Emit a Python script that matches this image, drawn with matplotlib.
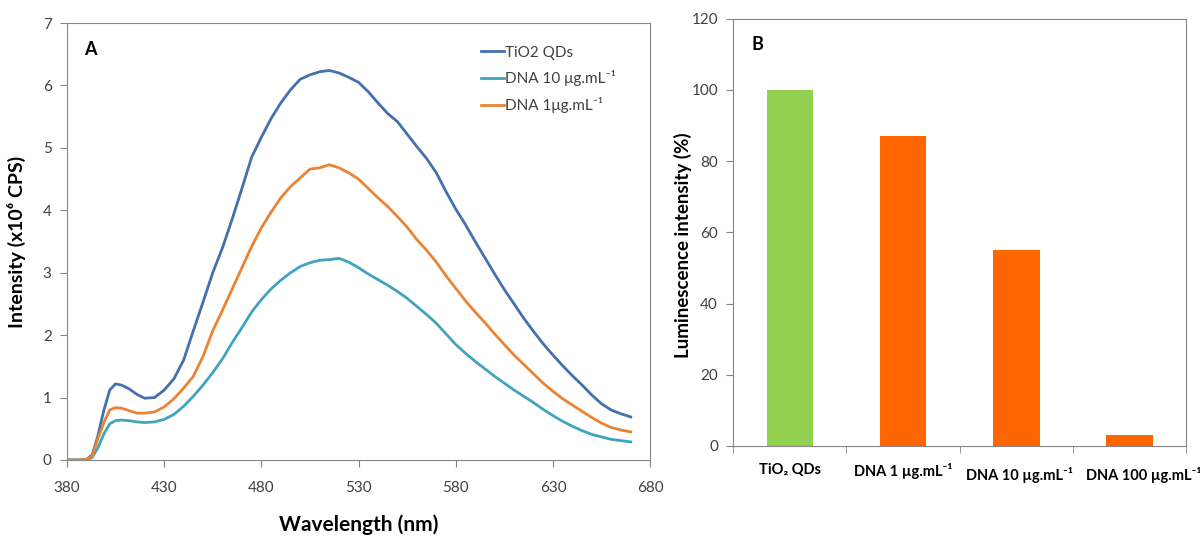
import numpy as np
import matplotlib
matplotlib.use("Agg")
import matplotlib.pyplot as plt
import matplotlib.transforms as mtransforms

plt.rcParams['font.family'] = ['Lato', 'DejaVu Sans']

# --- panel A: emission spectra ---
wavelength = [380, 385, 390, 393, 396, 399, 402, 405, 408, 412, 416, 420, 425, 430,
              435, 440, 445, 450, 455, 460, 465, 470, 475, 480, 485, 490, 495, 500,
              505, 510, 515, 520, 525, 530, 535, 540, 545, 550, 555, 560, 565, 570,
              575, 580, 585, 590, 595, 600, 605, 610, 615, 620, 625, 630, 635, 640,
              645, 650, 655, 660, 665, 670]

tio2 = [0, 0, 0.01, 0.08, 0.4, 0.8, 1.12, 1.22, 1.2, 1.14, 1.05, 0.99, 1.0, 1.12,
        1.3, 1.6, 2.07, 2.53, 3.0, 3.4, 3.86, 4.35, 4.85, 5.17, 5.47, 5.72, 5.93, 6.1,
        6.17, 6.22, 6.24, 6.2, 6.13, 6.05, 5.9, 5.72, 5.55, 5.42, 5.22, 5.02, 4.83, 4.6,
        4.3, 4.02, 3.77, 3.5, 3.24, 2.98, 2.73, 2.5, 2.27, 2.06, 1.86, 1.68, 1.51, 1.35,
        1.2, 1.04, 0.9, 0.8, 0.74, 0.69]

dna10 = [0, 0, 0.0, 0.04, 0.2, 0.42, 0.58, 0.63, 0.64, 0.63, 0.61, 0.6, 0.61, 0.65,
         0.73, 0.86, 1.02, 1.2, 1.4, 1.62, 1.88, 2.12, 2.37, 2.57, 2.74, 2.88, 3.0, 3.1,
         3.16, 3.2, 3.21, 3.23, 3.17, 3.08, 2.98, 2.89, 2.8, 2.7, 2.59, 2.46, 2.33, 2.19,
         2.02, 1.85, 1.71, 1.58, 1.46, 1.34, 1.23, 1.12, 1.02, 0.92, 0.81, 0.71, 0.62, 0.54,
         0.47, 0.41, 0.37, 0.33, 0.31, 0.29]

dna1 = [0, 0, 0.01, 0.06, 0.35, 0.6, 0.8, 0.84, 0.83, 0.79, 0.75, 0.75, 0.77, 0.85,
        0.98, 1.15, 1.34, 1.66, 2.07, 2.4, 2.74, 3.08, 3.42, 3.72, 3.97, 4.2, 4.38, 4.52,
        4.66, 4.68, 4.73, 4.68, 4.6, 4.5, 4.35, 4.2, 4.06, 3.9, 3.73, 3.53, 3.36, 3.17,
        2.95, 2.75, 2.55, 2.37, 2.2, 2.02, 1.85, 1.68, 1.53, 1.38, 1.23, 1.1, 0.98, 0.88,
        0.78, 0.68, 0.59, 0.52, 0.48, 0.45]

# --- panel B: relative luminescence ---
samples = ['TiO\u2082 QDs', 'DNA 1 \u00b5g.mL\u207b\u00b9',
           'DNA 10 \u00b5g.mL\u207b\u00b9', 'DNA 100 \u00b5g.mL\u207b\u00b9']
lum = [100, 87, 55, 3]
bar_colors = ['#92D050', '#FF6600', '#FF6600', '#FF6600']

grey = '#868686'
tick_col = '#404040'

fig = plt.figure(figsize=(12, 5.36), dpi=100)

ax1 = fig.add_axes([0.0558, 0.1418, 0.486, 0.8152])
ax1.plot(wavelength, tio2, color='#4470AE', lw=2, label='TiO2 QDs')
ax1.plot(wavelength, dna10, color='#41A4BE', lw=2, label='DNA 10 \u03bcg.mL\u207b\u00b9')
ax1.plot(wavelength, dna1, color='#EB8334', lw=2, label='DNA 1\u03bcg.mL\u207b\u00b9')
ax1.set_xlim(380, 680)
ax1.set_ylim(0, 7)
ax1.set_xticks(np.arange(380, 681, 50))
ax1.set_yticks(range(0, 8))
ax1.tick_params(direction='out', length=5, color=grey, labelsize=11,
                labelcolor=tick_col, pad=6)
ax1.tick_params(axis='x', pad=10)
for s in ax1.spines.values():
    s.set_color(grey)
ax1.set_xlabel('Wavelength (nm)', fontsize=15, fontweight='bold', labelpad=14)
ax1.set_ylabel('Intensity (x10\u2076 CPS)', fontsize=14, fontweight='bold', labelpad=12)
ax1.text(0.03, 0.94, 'A', transform=ax1.transAxes, fontsize=13, fontweight='bold',
         va='center')
ax1.legend(loc='upper right', bbox_to_anchor=(0.965, 0.98), frameon=False,
           fontsize=11, handlelength=1.5, handletextpad=0.1, labelspacing=0.7,
           labelcolor=tick_col)

ax2 = fig.add_axes([0.611, 0.168, 0.3775, 0.797])
pos = np.arange(len(samples))
ax2.bar(pos, lum, width=0.41, color=bar_colors)
ax2.set_xlim(-0.5, len(samples) - 0.5)
ax2.set_ylim(0, 120)
ax2.set_yticks(range(0, 121, 20))
ax2.set_xticks(pos)
ax2.set_xticklabels(samples, fontsize=10.5, fontweight='bold')
ax2.set_xticks(np.arange(-0.5, len(samples)), minor=True)
ax2.tick_params(axis='x', which='major', length=0, pad=12)
ax2.tick_params(axis='x', which='minor', length=5, color=grey, direction='out')
ax2.tick_params(axis='y', direction='out', length=5, color=grey, labelsize=11,
                labelcolor=tick_col, pad=6)
# nudge the crowded labels apart, like the original layout
shifts = [(0, 0), (0, 0), (3, -4), (14, -4)]
for lab, (dx, dy) in zip(ax2.get_xticklabels(), shifts):
    lab.set_transform(lab.get_transform() +
                      mtransforms.ScaledTranslation(dx / 100, dy / 100, fig.dpi_scale_trans))
for s in ax2.spines.values():
    s.set_color(grey)
ax2.set_ylabel('Luminescence intensity (%)', fontsize=13.5, fontweight='bold', labelpad=6)
ax2.yaxis.set_label_coords(-0.09, 0.47)
ax2.text(0.04, 0.94, 'B', transform=ax2.transAxes, fontsize=13, fontweight='bold',
         va='center')

fig.savefig('out.png', dpi=100)
